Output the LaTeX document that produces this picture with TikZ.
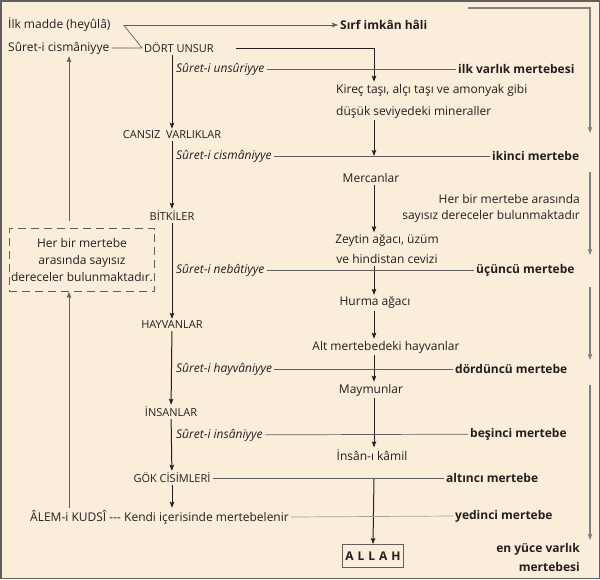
\documentclass[tikz,border=0pt]{standalone}
\usepackage{fontspec}
\setmainfont{Open Sans}
\usetikzlibrary{arrows.meta}
\definecolor{paper}{RGB}{250,237,218}
\definecolor{ink}{RGB}{35,31,32}
\definecolor{rulegray}{RGB}{95,95,95}
\definecolor{sidegray}{RGB}{130,130,130}
\definecolor{lightrule}{RGB}{160,160,160}

\begin{document}
\begin{tikzpicture}[x=1pt,y=-1pt,>={Stealth[length=6pt,width=4.5pt,inset=1pt]},
  every node/.style={inner sep=2pt,text=ink,font=\fontsize{12}{14}\selectfont},
  stage node/.style={font=\fontsize{11}{14}\selectfont},
  suret node/.style={anchor=west,font=\fontsize{12}{14}\selectfont\itshape},
  mertebe node/.style={anchor=west,font=\fontsize{12}{14}\selectfont\bfseries},
  step arrow/.style={->,line width=1pt,ink},
  level line/.style={line width=0.7pt,rulegray},
  side arrow/.style={->,line width=1.2pt,sidegray}]

  \fill[paper] (0,0) rectangle (600,579);
  \useasboundingbox (0,0) rectangle (600,579);
  \draw[line width=1.5pt,rulegray] (0.75,0.75) rectangle (599.25,578.25);

  % axes of the three columns
  \coordinate (lx) at (69,0);
  \coordinate (axis) at (374,0);

  % left column
  \node (ilk) [anchor=west] at (6,25) {İlk madde (heyûlâ)};
  \node (sc) [anchor=west] at (6,48) {Sûret-i cismâniyye};
  \node[stage node] (dort) [anchor=west] at (142,48) {DÖRT UNSUR};
  \node[stage node] (cansiz) at (172,135) {CANSIZ\ \ VARLIKLAR};
  \node[stage node] (bitki) at (172,216) {BİTKİLER};
  \node[stage node] (hayvan) at (172,325) {HAYVANLAR};
  \node[stage node] (insan) at (171,412) {İNSANLAR};
  \node[stage node] (gok) at (172,478) {GÖK CİSİMLERİ};
  \node (alem) [anchor=west] at (28,517) {ÂLEM-i KUDSÎ -{}-{}- Kendi içerisinde mertebelenir};
  \node (box) [draw=rulegray,line width=0.8pt,dash pattern=on 8pt off 5pt,minimum width=144pt,minimum height=63pt,align=center,font=\fontsize{12}{17}\selectfont] at (82,260) {Her bir mertebe\\arasında sayısız\\dereceler bulunmaktadır.};

  % suretler
  \node[suret node] (s1) at (174,69) {Sûret-i unsûriyye};
  \node[suret node] (s2) at (174,156) {Sûret-i cismâniyye};
  \node[suret node] (s3) at (174,270) {Sûret-i nebâtiyye};
  \node[suret node] (s4) at (174,369) {Sûret-i hayvâniyye};
  \node[suret node] (s5) at (174,435) {Sûret-i insâniyye};

  % middle column
  \node (sirf) [anchor=west,font=\fontsize{12}{14}\selectfont\bfseries] at (338,25) {Sırf imkân hâli};
  \node (kirec) [anchor=west,align=left,font=\fontsize{12}{22}\selectfont] at (334,101) {Kireç taşı, alçı taşı ve amonyak gibi\\düşük seviyedeki mineraller};
  \node (mercan) at (371,178) {Mercanlar};
  \node (zeytin) [align=center,font=\fontsize{12}{20}\selectfont] at (387,249) {Zeytin ağacı, üzüm\\ve hindistan cevizi};
  \node (hurma) at (375,303) {Hurma ağacı};
  \node (alt) at (386,347) {Alt mertebedeki hayvanlar};
  \node (maymun) at (371,390) {Maymunlar};
  \node (kamil) at (372,455) {İnsân-ı kâmil};
  \node (allah) [draw=rulegray,line width=0.8pt,minimum width=61pt,minimum height=23pt,font=\fontsize{12}{14}\selectfont\bfseries] at (373,556) {A\hspace{4pt}L\hspace{4pt}L\hspace{4pt}A\hspace{4pt}H};

  % mertebeler
  \node[mertebe node] (m1) at (456,69) {ilk varlık mertebesi};
  \node[mertebe node] (m2) at (490,156) {ikinci mertebe};
  \node[mertebe node] (m3) at (474,270) {üçüncü mertebe};
  \node[mertebe node] (m4) at (453,369) {dördüncü mertebe};
  \node[mertebe node] (m5) at (468,434) {beşinci mertebe};
  \node[mertebe node] (m6) at (444,478) {altıncı mertebe};
  \node[mertebe node] (m7) at (453,516) {yedinci mertebe};
  \node (note) [anchor=east,align=right,font=\fontsize{12}{16}\selectfont] at (582,208) {Her bir mertebe arasında\\sayısız dereceler bulunmaktadır};
  \node (yuce) [anchor=east,align=right,font=\fontsize{12}{19}\selectfont\bfseries] at (582,557) {en yüce varlık\\mertebesi};

  % right side arrows
  \coordinate (r0) at (468,8);
  \coordinate (r1) at (590,133);
  \coordinate (r2) at (590,172);
  \coordinate (r3) at (590,255);
  \coordinate (r4) at (590,287);
  \coordinate (r5) at (590,360);
  \coordinate (r6) at (590,385);
  \coordinate (r7) at (590,540);

  % top connectors
  \draw[level line] (sc.east) -- (dort.west) -- ([xshift=11pt]ilk.east);
  \draw[level line,->] ([xshift=11pt]ilk.east) -- (sirf.west);
  \draw[step arrow] ([xshift=20pt]dort.east) -| (kirec.north -| axis);

  % left chain
  \path[step arrow]
    (dort.south -| cansiz) edge (cansiz.north)
    (cansiz) edge (bitki)
    (bitki) edge (hayvan)
    (hayvan) edge (insan)
    (insan) edge (gok)
    (gok) edge (alem.north -| gok)
  ;
  \draw[level line,->] (alem.north -| lx) -- (box.south -| lx);
  \draw[level line,->] ([yshift=7pt]box.north -| lx) -- (sc.south -| lx);

  % middle chain
  \path[step arrow]
    (kirec.south -| axis) edge (m2 -| axis)
    (mercan.south -| axis) edge (zeytin.north -| axis)
    (zeytin.south -| axis) edge (hurma.north -| axis)
    (hurma.south -| axis) edge (alt.north -| axis)
    (alt.south -| axis) edge (maymun.north -| axis)
    (maymun.south -| axis) edge (kamil.north -| axis)
    (m6 -| axis) edge (allah.north)
  ;

  % level lines
  \path[level line]
    (s1) edge (m1)
    (s2) edge (m2)
    (s3) edge (m3)
    (s4) edge (m4)
    (s5) edge (m5)
    (gok) edge (m6)
  ;
  \draw[level line,lightrule] (alem.east) -- (m7.west);

  % right side
  \draw[side arrow] (r0) -| (r1);
  \draw[side arrow] (r2) -- (r3);
  \draw[side arrow] (r4) -- (r5);
  \draw[side arrow] (r6) -- (r7);

\end{tikzpicture}
\end{document}
